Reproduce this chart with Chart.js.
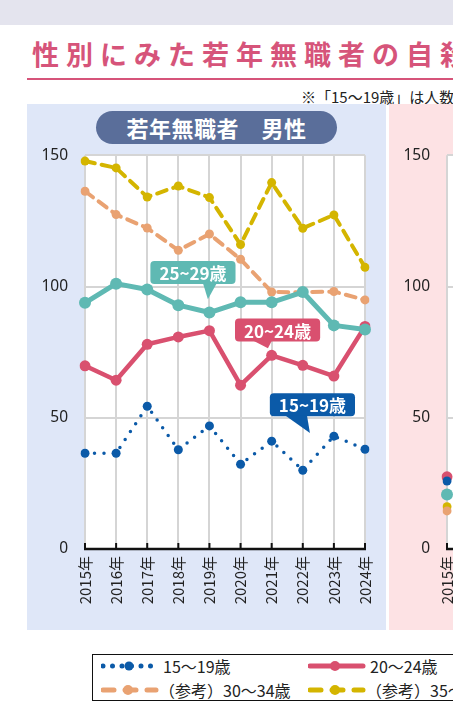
<!DOCTYPE html>
<html lang="ja">
<head>
<meta charset="utf-8">
<script src="https://cdn.jsdelivr.net/npm/chart.js@4.4.1/dist/chart.umd.min.js"></script>
<style>
  html, body { margin: 0; padding: 0; width: 453px; height: 726px; overflow: hidden; background: #fff;
    font-family: "Noto Sans CJK JP", "Noto Sans", sans-serif; }
  #band { position: absolute; left: 0; top: 0; width: 453px; height: 25px; background: #e4e4ee; }
  #title { position: absolute; left: 32px; top: 36px; white-space: nowrap; font-size: 27px; font-weight: bold;
    color: #d6547a; letter-spacing: 7px; line-height: 36px; }
  #rule { position: absolute; left: 27px; top: 78px; width: 440px; height: 2px; background: #d6547a; }
  #note { position: absolute; left: 301px; top: 87px; white-space: nowrap; font-size: 15px; color: #222; line-height: 20px; }
  .panel { position: absolute; top: 104px; height: 526px; }
  #malePanel { left: 27px; width: 359px; background: #dfe7f8; }
  #femalePanel { left: 389px; width: 400px; background: #fde2e4; }
  #pill { position: absolute; left: 96px; top: 111px; width: 241px; height: 33px; border-radius: 17px;
    background: #5a6e9a; color: #fff; font-size: 22px; font-weight: bold; text-align: center; line-height: 33px;
    letter-spacing: 0.5px; }
  canvas { position: absolute; top: 129px; }
  #maleChart { left: 27px; }
  #femaleChart { left: 390px; }
  #legend { position: absolute; left: 92px; top: 654px; width: 500px; height: 45px; border: 1.5px solid #111; }
  .item { position: absolute; height: 22px; white-space: nowrap; font-size: 16px; color: #222; line-height: 22px; }
  .item svg { position: absolute; left: 0; top: 0; }
  .item span { position: absolute; top: 0; }
</style>
</head>
<body>
<div id="band"></div>
<div id="title">性別にみた若年無職者の自殺者数の推移</div>
<div id="rule"></div>
<div id="note">※「15〜19歳」は人数が少ないため参考値</div>
<div class="panel" id="malePanel"></div>
<div class="panel" id="femalePanel"></div>
<div id="pill">若年無職者　男性</div>
<canvas id="maleChart" width="363" height="496"></canvas>
<canvas id="femaleChart" width="363" height="496"></canvas>
<div id="legend"></div>

<script>
const years = ['2015年', '2016年', '2017年', '2018年', '2019年', '2020年', '2021年', '2022年', '2023年', '2024年'];
const yTicks = [0, 50, 100, 150];
const seriesNames = ['15〜19歳', '20〜24歳', '25〜29歳', '（参考）30〜34歳', '（参考）35〜39歳'];

// 男性
const male15to19 = [36.5, 36.5, 54.4, 37.8, 46.9, 32.3, 41.1, 30.0, 43.0, 38.0];
const male20to24 = [69.8, 64.3, 78.0, 80.8, 83.2, 62.4, 73.8, 70.0, 65.9, 84.8];
const male25to29 = [93.8, 101.1, 98.9, 92.9, 90.1, 94.0, 94.0, 97.9, 85.2, 83.6];
const male30to34 = [136.3, 127.4, 122.3, 113.8, 120.0, 110.4, 97.9, 97.8, 98.1, 94.9];
const male35to39 = [147.8, 145.2, 134.1, 138.3, 133.9, 116.0, 139.6, 122.2, 127.3, 107.3];

// 女性 (only 2015 is visible)
const female15to19 = [25.9, null, null, null, null, null, null, null, null, null];
const female20to24 = [27.5, null, null, null, null, null, null, null, null, null];
const female25to29 = [20.8, null, null, null, null, null, null, null, null, null];
const female30to34 = [14.5, null, null, null, null, null, null, null, null, null];
const female35to39 = [16.1, null, null, null, null, null, null, null, null, null];

const styles = [
  { color: '#0b5aa8', width: 3.5, dash: [0, 9.5], radius: 4.5, order: 1 },
  { color: '#d9506f', width: 4.5, dash: [], radius: 5.5, order: 3 },
  { color: '#5fb9b3', width: 5, dash: [], radius: 6, order: 2 },
  { color: '#e9a272', width: 4, dash: [10, 7], radius: 4.5, order: 4 },
  { color: '#d4b500', width: 4, dash: [10, 7], radius: 4.5, order: 5 }
];

Chart.defaults.font.family = '"Noto Sans CJK JP", "Noto Sans", sans-serif';
Chart.defaults.color = '#222';

function makeDatasets(series) {
  return series.map((data, i) => ({
    label: seriesNames[i],
    data: data,
    borderColor: styles[i].color,
    backgroundColor: styles[i].color,
    borderWidth: styles[i].width,
    borderDash: styles[i].dash,
    borderCapStyle: 'round',
    borderJoinStyle: 'round',
    pointRadius: styles[i].radius,
    pointBorderWidth: 0,
    pointHoverRadius: styles[i].radius,
    order: styles[i].order,
    tension: 0
  }));
}

// white plot area + black baseline with small upward ticks
const plotFrame = {
  id: 'plotFrame',
  beforeDraw(chart) {
    const a = chart.chartArea, c = chart.ctx;
    c.save();
    c.fillStyle = '#fff';
    c.fillRect(a.left, a.top, a.right - a.left, a.bottom - a.top);
    c.restore();
  },
  afterDatasetsDraw(chart) {
    const a = chart.chartArea, c = chart.ctx, x = chart.scales.x;
    c.save();
    c.strokeStyle = '#111';
    c.lineWidth = 2.5;
    c.beginPath();
    c.moveTo(a.left - 1, a.bottom);
    c.lineTo(a.right + 1, a.bottom);
    c.stroke();
    c.lineWidth = 2;
    x.ticks.forEach((t, i) => {
      const px = x.getPixelForTick(i);
      c.beginPath();
      c.moveTo(px, a.bottom);
      c.lineTo(px, a.bottom - 6);
      c.stroke();
    });
    c.restore();
  }
};

// speech-bubble labels
const callouts = {
  id: 'callouts',
  afterDatasetsDraw(chart, args, opts) {
    const c = chart.ctx, x = chart.scales.x, y = chart.scales.y;
    (opts.items || []).forEach(it => {
      const cx = x.getPixelForValue(it.box[0]), cy = y.getPixelForValue(it.box[1]);
      const tx = x.getPixelForValue(it.tip[0]), ty = y.getPixelForValue(it.tip[1]);
      c.save();
      c.font = 'bold 17px "Noto Sans CJK JP", sans-serif';
      const w = c.measureText(it.text).width + 18, h = 23, r = 4;
      const l = cx - w / 2, t = cy - h / 2;
      c.fillStyle = it.color;
      c.beginPath();
      c.moveTo(l + r, t);
      c.lineTo(l + w - r, t);
      c.quadraticCurveTo(l + w, t, l + w, t + r);
      c.lineTo(l + w, t + h - r);
      c.quadraticCurveTo(l + w, t + h, l + w - r, t + h);
      c.lineTo(l + r, t + h);
      c.quadraticCurveTo(l, t + h, l, t + h - r);
      c.lineTo(l, t + r);
      c.quadraticCurveTo(l, t, l + r, t);
      c.fill();
      c.beginPath();
      c.moveTo(tx + it.base[0], t + h - 1);
      c.lineTo(tx + it.base[1], t + h - 1);
      c.lineTo(tx, ty);
      c.closePath();
      c.fill();
      c.fillStyle = '#fff';
      c.textAlign = 'center';
      c.textBaseline = 'middle';
      c.fillText(it.text, cx, cy + 1);
      c.restore();
    });
  }
};

function makeChart(id, series, leftWidth, items) {
  return new Chart(document.getElementById(id), {
    type: 'line',
    data: { labels: years, datasets: makeDatasets(series) },
    plugins: [plotFrame, callouts],
    options: {
      responsive: false,
      animation: false,
      layout: { padding: { top: 3, right: 19, left: 0, bottom: 0 } },
      plugins: {
        legend: { display: false },
        tooltip: { enabled: false },
        callouts: { items: items }
      },
      scales: {
        x: {
          type: 'category',
          offset: false,
          border: { display: false },
          grid: { color: '#d5d5d5', lineWidth: 2, drawTicks: false },
          ticks: { autoSkip: false, maxRotation: 90, minRotation: 90, padding: 7,
            font: { size: 15 }, color: '#222' },
          afterFit: s => { s.height = 76; }
        },
        y: {
          min: 0,
          max: 150,
          border: { display: false },
          grid: { color: '#d5d5d5', lineWidth: 2, drawTicks: false },
          afterBuildTicks: s => { s.ticks = yTicks.map(v => ({ value: v })); },
          ticks: { padding: 17, font: { family: '"Noto Sans", sans-serif', size: 15.5 }, color: '#222' },
          afterFit: s => { s.width = leftWidth; }
        }
      }
    }
  });
}

makeChart('maleChart', [male15to19, male20to24, male25to29, male30to34, male35to39], 58, [
  { text: '25~29歳', color: '#5fb9b3', box: [3.47, 105.3], tip: [3.95, 95.2], base: [-5, 9] },
  { text: '20~24歳', color: '#d9506f', box: [6.19, 83.4], tip: [5.88, 76.5], base: [-15, 4] },
  { text: '15~19歳', color: '#0b5aa8', box: [7.31, 55.0], tip: [7.23, 44.2], base: [-25, -3] }
]);
makeChart('femaleChart', [female15to19, female20to24, female25to29, female30to34, female35to39], 57, []);

// legend built from the same names and styles
const legendPos = [[8, 0], [215, 0], [8, 24], [215, 24]];
const legendIdx = [0, 1, 3, 4];
const legend = document.getElementById('legend');
legendIdx.forEach((si, k) => {
  const s = styles[si];
  const div = document.createElement('div');
  div.className = 'item';
  div.style.left = legendPos[k][0] + 'px';
  div.style.top = legendPos[k][1] + 'px';
  div.innerHTML =
    '<svg width="60" height="22"><line x1="2" y1="11" x2="' + (si === 0 ? 50 : 55) + '" y2="11" stroke="' + s.color +
    '" stroke-width="5" stroke-linecap="round" stroke-dasharray="' +
    (si === 0 ? '0 9.5' : (s.dash.length ? '11 11' : 'none')) + '"/>' +
    '<circle cx="' + (si === 0 ? 28 : 27) + '" cy="11" r="' + (si === 0 ? 4.5 : 5) + '" fill="' + s.color + '"/></svg>' +
    '<span style="left:' + (si === 3 || si === 4 ? 58 : 62) + 'px">' + seriesNames[si] + '</span>';
  legend.appendChild(div);
});
</script>
</body>
</html>
